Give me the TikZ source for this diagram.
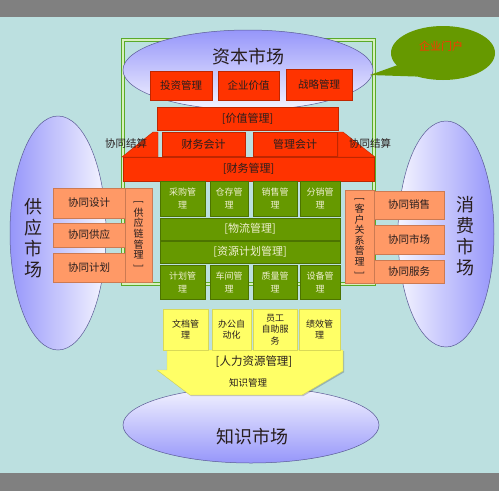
\documentclass[tikz,border=0pt]{standalone}
\usepackage{fontspec}
\setmainfont{Noto Sans CJK SC}
\usepackage{graphicx}
\usetikzlibrary{shapes.geometric,shadows}
\definecolor{bgblue}{RGB}{188,224,224}
\definecolor{bandgray}{RGB}{128,128,128}
\definecolor{myred}{RGB}{255,51,0}
\definecolor{mygreen}{RGB}{102,153,0}
\definecolor{gtext}{RGB}{240,240,210}
\definecolor{mysalmon}{RGB}{255,153,102}
\definecolor{myyellow}{RGB}{255,255,102}
\definecolor{mypurple}{RGB}{150,150,250}
\definecolor{mylav}{RGB}{245,245,255}
\definecolor{frgreen}{RGB}{90,170,40}
\definecolor{frlight}{RGB}{215,240,190}
\definecolor{dtext}{RGB}{40,30,30}
\newcommand{\bx}[7]{\node[#6, minimum width={(#4-#2)*1pt}, minimum height={(#5-#3)*1pt}] (#1) at ({(#2+#4)/2},{(#3+#5)/2}) {#7};}
\newcommand{\lb}{\rotatebox[origin=c]{-90}{[}}
\newcommand{\rb}{\rotatebox[origin=c]{-90}{]}}
\begin{document}
\begin{tikzpicture}[x=1pt,y=-1pt,
  basebox/.style={inner sep=0pt, outer sep=0pt, align=center, line width=0.4pt,
    drop shadow={shadow xshift=1.2pt,shadow yshift=-1.2pt,fill=black,opacity=0.3}},
  redbox/.style={basebox, fill=myred, draw=myred!75!black, text=dtext, font=\fontsize{10.5}{12}\selectfont},
  greenbox/.style={basebox, fill=mygreen, draw=mygreen!75!black, text=gtext, font=\fontsize{9}{13}\selectfont},
  greenbar/.style={basebox, fill=mygreen, draw=mygreen!75!black, text=gtext, font=\fontsize{11}{13}\selectfont},
  salbox/.style={basebox, fill=mysalmon, draw=mysalmon!80!black, text=dtext, font=\fontsize{10.5}{12}\selectfont},
  salvert/.style={basebox, fill=mysalmon, draw=mysalmon!80!black, text=dtext, font=\fontsize{10}{10.6}\selectfont},
  yelbox/.style={basebox, fill=myyellow, draw=myyellow!85!black, text=dtext, font=\fontsize{9}{11.5}\selectfont},
  market/.style={ellipse, inner sep=0pt, draw=mypurple!60!black, line width=0.5pt},
  mtext/.style={text=dtext, font=\fontsize{18}{21}\selectfont, align=center, inner sep=0pt},
  ltext/.style={text=dtext, font=\fontsize{10.5}{12}\selectfont, inner sep=0pt}
]
\useasboundingbox (0,0) rectangle (499,491);
% background
\fill[bandgray] (0,0) rectangle (499,17);
\fill[bgblue] (0,17) rectangle (499,473);
\fill[bandgray] (0,473) rectangle (499,491);
% frame
\draw[draw=frgreen, line width=1.1pt, double=frlight, double distance=2pt] (123,40) rectangle (374,284);
% markets
\node[market, minimum width=250pt, minimum height=80pt, top color=mypurple, bottom color=mylav] (capm) at (248,70) {};
\node[market, minimum width=96pt, minimum height=234pt, left color=mypurple, right color=mylav] (supm) at (58,233) {};
\node[market, minimum width=96pt, minimum height=226pt, left color=mylav, right color=mypurple] (conm) at (446,234) {};
\node[market, minimum width=256pt, minimum height=76pt, top color=mylav, bottom color=mypurple] (knom) at (251,425) {};
\node[mtext] (capmt) at (248,57) {资本市场};
\node[mtext] (supmt) at (33,238) {供\\应\\市\\场};
\node[mtext] (conmt) at (465,236) {消\\费\\市\\场};
\node[mtext] (knomt) at (252,437) {知识市场};
% portal callout
\node[ellipse, fill=mygreen, minimum width=104pt, minimum height=54pt, inner sep=0pt] (portal) at (443,53) {};
\coordinate (tip) at (370,75);
\fill[mygreen] (portal.195) -- (tip) -- (portal.222) -- cycle;
\node[text=myred, font=\fontsize{11}{12}\selectfont, inner sep=0pt] (portalt) at (441,46) {企业门户};
% red section
\bx{tz}{150}{71}{212}{100}{redbox}{投资管理}
\bx{qy}{218}{71}{279}{100}{redbox}{企业价值}
\bx{zl}{286}{69}{352}{100}{redbox}{战略管理}
\bx{jzgl}{157}{107}{338}{130}{redbox, font=\fontsize{11}{12}\selectfont}{[价值管理]}
\fill[myred, draw=myred!75!black, line width=0.4pt] (153,132) -- (158,132) -- (158,157) -- (122,157) -- cycle;
\fill[myred, draw=myred!75!black, line width=0.4pt] (338,132) -- (343,132) -- (375,157) -- (338,157) -- cycle;
\bx{cwkj}{162}{132}{245}{156}{redbox, font=\fontsize{11}{12}\selectfont}{财务会计}
\bx{glkj}{253}{132}{337}{156}{redbox, font=\fontsize{11}{12}\selectfont}{管理会计}
\bx{cwgl}{123}{157}{374}{181}{redbox, font=\fontsize{11}{12}\selectfont}{[财务管理]}
\node[ltext] (xtjs1) at (126,143) {协同结算};
\node[ltext] (xtjs2) at (370,143) {协同结算};
% green section
\bx{cg}{160}{181}{205}{216}{greenbox}{采购管\\理}
\bx{cc}{210}{181}{248}{216}{greenbox}{仓存管\\理}
\bx{xs}{253}{181}{297}{216}{greenbox}{销售管\\理}
\bx{fx}{300}{181}{340}{216}{greenbox}{分销管\\理}
\bx{wl}{160}{218}{340}{240}{greenbar}{[物流管理]}
\bx{zy}{160}{241}{340}{263}{greenbar}{[资源计划管理]}
\bx{jh}{160}{265}{205}{299}{greenbox}{计划管\\理}
\bx{cj}{210}{265}{248}{299}{greenbox}{车间管\\理}
\bx{zl2}{253}{265}{297}{299}{greenbox}{质量管\\理}
\bx{sb}{300}{265}{340}{299}{greenbox}{设备管\\理}
% supply chain
\bx{xtsj}{53}{188}{125}{218}{salbox}{协同设计}
\bx{xtgy}{53}{223}{125}{247}{salbox}{协同供应}
\bx{xtjh}{53}{253}{125}{282}{salbox}{协同计划}
\bx{gyl}{125}{188}{152}{282}{salvert}{\lb\\供\\应\\链\\管\\理\\\rb}
% customer
\bx{khgx}{345}{190}{374}{283}{salvert}{\lb\\客\\户\\关\\系\\管\\理\\\rb}
\bx{xtxs}{374}{191}{444}{219}{salbox}{协同销售}
\bx{xtsc}{374}{225}{444}{254}{salbox}{协同市场}
\bx{xtfw}{374}{260}{444}{283}{salbox}{协同服务}
% HR section
\filldraw[fill=myyellow, draw=myyellow!85!black, line width=0.4pt,
  drop shadow={shadow xshift=1.2pt,shadow yshift=-1.2pt,fill=black,opacity=0.2}]
  (167,350) -- (343,350) -- (343,371) -- (302,395) -- (190,395) -- (157,370) -- (167,370) -- cycle;
\bx{wd}{163}{309}{208}{350}{yelbox}{文档管\\理}
\bx{bg}{212}{309}{251}{350}{yelbox}{办公自\\动化}
\bx{yg}{253}{309}{297}{350}{yelbox}{员工\\自助服\\务}
\bx{jx}{299}{309}{340}{350}{yelbox}{绩效管\\理}
\node[text=dtext, font=\fontsize{11.5}{12}\selectfont, inner sep=0pt] (rlzy) at (254,362) {[人力资源管理]};
\node[text=dtext, font=\fontsize{9.5}{11}\selectfont, inner sep=0pt] (zsgl) at (248,383) {知识管理};
\end{tikzpicture}
\end{document}
